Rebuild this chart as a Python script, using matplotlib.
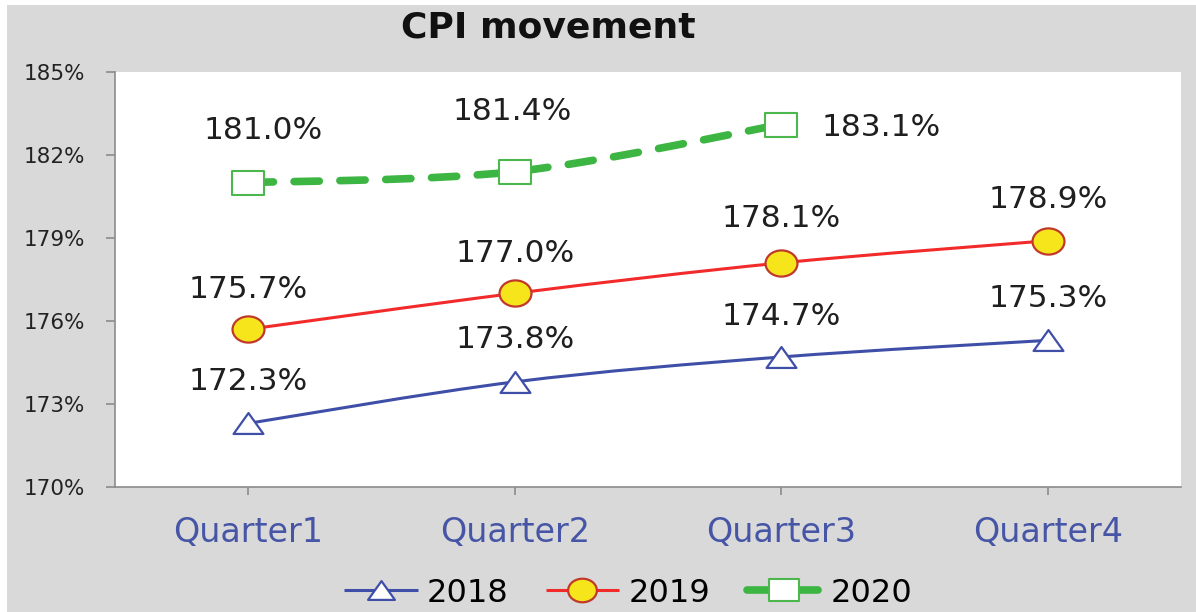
import numpy as np
import matplotlib
matplotlib.use("Agg")
import matplotlib.pyplot as plt
from matplotlib.path import Path
from matplotlib.patches import PathPatch, Rectangle
from matplotlib.lines import Line2D

# ---------------- data ----------------
categories = ["Quarter1", "Quarter2", "Quarter3", "Quarter4"]
cpi_2018 = [172.3, 173.8, 174.7, 175.3]
cpi_2019 = [175.7, 177.0, 178.1, 178.9]
cpi_2020 = [181.0, 181.4, 183.1]
series_names = ["2018", "2019", "2020"]
y_ticks = [170, 173, 176, 179, 182, 185]

plt.rcParams["font.family"] = ["DejaVu Sans"]

# ---------------- helpers ----------------
def smooth_path(xs, ys):
    pts = np.column_stack([xs, ys]).astype(float)
    n = len(pts)
    verts = [pts[0]]
    codes = [Path.MOVETO]
    for i in range(n - 1):
        p0 = pts[i - 1] if i > 0 else pts[i]
        p1 = pts[i]
        p2 = pts[i + 1]
        p3 = pts[i + 2] if i + 2 < n else pts[i + 1]
        c1 = p1 + (p2 - p0) / 6.0
        c2 = p2 - (p3 - p1) / 6.0
        verts += [c1, c2, p2]
        codes += [Path.CURVE4] * 3
    return Path(verts, codes)

uc = Path.unit_circle()
ellipse_marker = Path(uc.vertices * np.array([1.22, 1.0]), uc.codes)
tri_marker = Path([(-1, -0.7), (1, -0.7), (0, 0.7), (-1, -0.7)],
                  [Path.MOVETO, Path.LINETO, Path.LINETO, Path.CLOSEPOLY])
sq_marker = Path([(-1, -0.72), (1, -0.72), (1, 0.72), (-1, 0.72), (-1, -0.72)],
                 [Path.MOVETO, Path.LINETO, Path.LINETO, Path.LINETO, Path.CLOSEPOLY])

styles = {
    "2018": dict(color="#3f4fa8", lw=2.2, ls="-", marker=tri_marker, ms=21.5,
                 mfc="white", mec="#3f4fa8", mew=1.6),
    "2019": dict(color="#f22a2a", lw=2.2, ls="-", marker=ellipse_marker, ms=23,
                 mfc="#f7e51c", mec="#c0392b", mew=1.6),
    "2020": dict(color="#3db543", lw=5.5, ls=(0, (3.3, 2.7)), marker=sq_marker, ms=23.5,
                 mfc="white", mec="#4cb84c", mew=1.5),
}

# ---------------- figure ----------------
fig = plt.figure(figsize=(11.96, 6.12), dpi=100)
fig.patch.set_facecolor("white")
fig.add_artist(Rectangle((7 / 1196, 0), 1 - 7 / 1196, 1 - 5 / 612,
                         transform=fig.transFigure, facecolor="#d9d9d9",
                         edgecolor="none", zorder=-10))

ax = fig.add_axes([115 / 1196, 1 - 487 / 612, (1181 - 115) / 1196, (487 - 72) / 612])
ax.set_facecolor("white")
ax.set_xlim(-0.5, len(categories) - 0.5)
ax.set_ylim(170, 185)

data = {"2018": cpi_2018, "2019": cpi_2019, "2020": cpi_2020}
handles = []
for name in series_names:
    vals = data[name]
    st = styles[name]
    xs = np.arange(len(vals))
    patch = PathPatch(smooth_path(xs, vals), fill=False, edgecolor=st["color"],
                      lw=st["lw"], linestyle=st["ls"], capstyle="round",
                      joinstyle="round", zorder=2)
    ax.add_patch(patch)
    ax.plot(xs, vals, linestyle="none", marker=st["marker"], ms=st["ms"],
            mfc=st["mfc"], mec=st["mec"], mew=st["mew"], zorder=3)
    h = Line2D([], [], color=st["color"], lw=st["lw"], linestyle=st["ls"],
               dash_capstyle="round", solid_capstyle="butt",
               marker=st["marker"], ms=st["ms"] * 0.9,
               mfc=st["mfc"], mec=st["mec"], mew=st["mew"], label=name)
    handles.append(h)

# data labels
label_offsets = {
    "2018": [(0, 42), (0, 42), (0, 40), (0, 42)],
    "2019": [(0, 40), (0, 40), (0, 44), (0, 41)],
    "2020": [(15, 52), (-3, 60), (100, -3)],
}
for name in series_names:
    vals = data[name]
    for i, v in enumerate(vals):
        dx, dy = label_offsets[name][i]
        ax.annotate(f"{v:.1f}%", (i, v), xytext=(dx, dy), textcoords="offset pixels",
                    ha="center", va="center", fontsize=22.5, color="#1f1f1f",
                    zorder=5, annotation_clip=False)

# axes styling
for s in ["top", "right"]:
    ax.spines[s].set_visible(False)
for s in ["left", "bottom"]:
    ax.spines[s].set_color("#8c8c8c")
    ax.spines[s].set_linewidth(1.2)

ax.set_yticks(y_ticks)
ax.set_yticklabels([f"{t}%" for t in y_ticks])
ax.set_xticks(np.arange(len(categories)))
ax.set_xticklabels(categories)
ax.tick_params(axis="y", length=6.5, width=1.2, color="#8c8c8c", pad=15,
               labelsize=15.5, labelcolor="#222222")
ax.tick_params(axis="x", length=6, width=1.2, color="#8c8c8c", pad=15,
               labelsize=24, labelcolor="#4655a5")

fig.text(548 / 1196, 1 - 28 / 612, "CPI movement", ha="center", va="center",
         fontsize=26, fontweight="bold", color="#111111")

fig.legend(handles=handles, loc="center", bbox_to_anchor=(628 / 1196, 1 - 593 / 612),
           ncol=3, frameon=False, fontsize=23, handlelength=2.3,
           handletextpad=0.3, columnspacing=1.15, borderpad=0)

fig.savefig("out.png", dpi=100)
